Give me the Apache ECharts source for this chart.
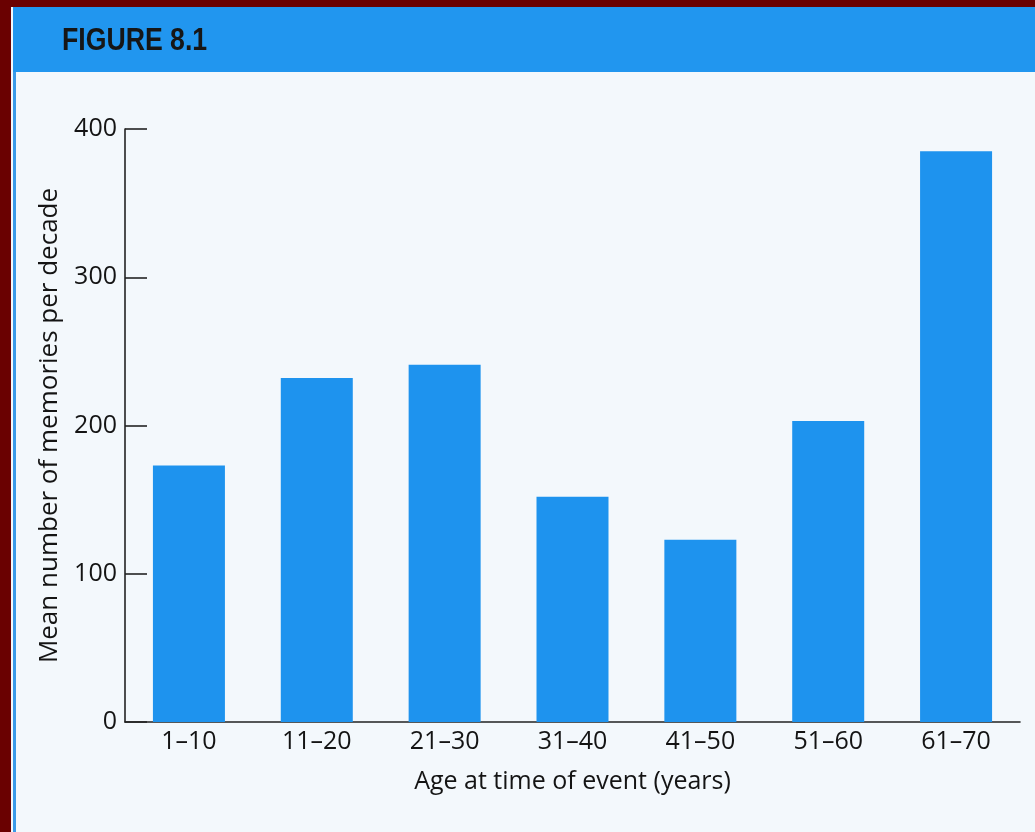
<!DOCTYPE html>
<html>
<head>
<meta charset="utf-8">
<script src="https://cdn.jsdelivr.net/npm/echarts@6/dist/echarts.min.js"></script>
<style>
html,body{margin:0;padding:0;background:#f3f8fc;}
#chart{width:1035px;height:832px;}
</style>
</head>
<body>
<div id="chart"></div>
<script>
const categories = ['1\u201310', '11\u201320', '21\u201330', '31\u201340', '41\u201350', '51\u201360', '61\u201370'];
const memories = [173, 232, 241, 152, 123, 203, 385];
const yTicks = [0, 100, 200, 300, 400];

const chart = echarts.init(document.getElementById('chart'));
const textColor = '#141414';
const fontFam = '"Open Sans", "Noto Sans", sans-serif';
chart.setOption({
  backgroundColor: '#f3f8fc',
  animation: false,
  graphic: [
    { type: 'rect', shape: { x: 0, y: 0, width: 1035, height: 7 }, style: { fill: '#6a0101' }, z: 10 },
    { type: 'rect', shape: { x: 0, y: 0, width: 11, height: 832 }, style: { fill: '#6a0101' }, z: 10 },
    { type: 'rect', shape: { x: 13, y: 7, width: 1022, height: 65 }, style: { fill: '#2196ef' }, z: 5 },
    { type: 'rect', shape: { x: 13, y: 72, width: 3, height: 760 }, style: { fill: '#3a9ae8' }, z: 5 },
    { type: 'text', x: 62, y: 26, scaleX: 0.86, style: { text: 'FIGURE 8.1', fill: '#161616', font: 'bold 31px "Liberation Sans", Arial, sans-serif' }, z: 11 }
  ],
  grid: { left: 125, right: 15, top: 129, bottom: 110 },
  xAxis: {
    type: 'category',
    data: categories,
    name: 'Age at time of event (years)',
    nameLocation: 'middle',
    nameGap: 47,
    nameTextStyle: { fontSize: 25, color: textColor, fontFamily: fontFam },
    axisLine: { show: true, lineStyle: { color: '#222', width: 1.6 } },
    axisTick: { show: false },
    axisLabel: { fontSize: 25, color: textColor, fontFamily: fontFam, margin: 7 }
  },
  yAxis: {
    type: 'value',
    min: yTicks[0],
    max: yTicks[yTicks.length - 1],
    interval: 100,
    name: 'Mean number of memories per decade',
    nameLocation: 'middle',
    nameGap: 62,
    nameRotate: 90,
    nameTextStyle: { fontSize: 26, color: textColor, fontFamily: fontFam },
    axisLine: { show: true, lineStyle: { color: '#222', width: 1.6 } },
    axisTick: { show: true, inside: true, length: 22, lineStyle: { color: '#222', width: 1.6 } },
    axisLabel: { fontSize: 25, color: textColor, fontFamily: fontFam, margin: 8 },
    splitLine: { show: false }
  },
  series: [{
    type: 'bar',
    data: memories,
    barWidth: 72,
    itemStyle: { color: '#1e93ee' }
  }]
});
</script>
</body>
</html>
